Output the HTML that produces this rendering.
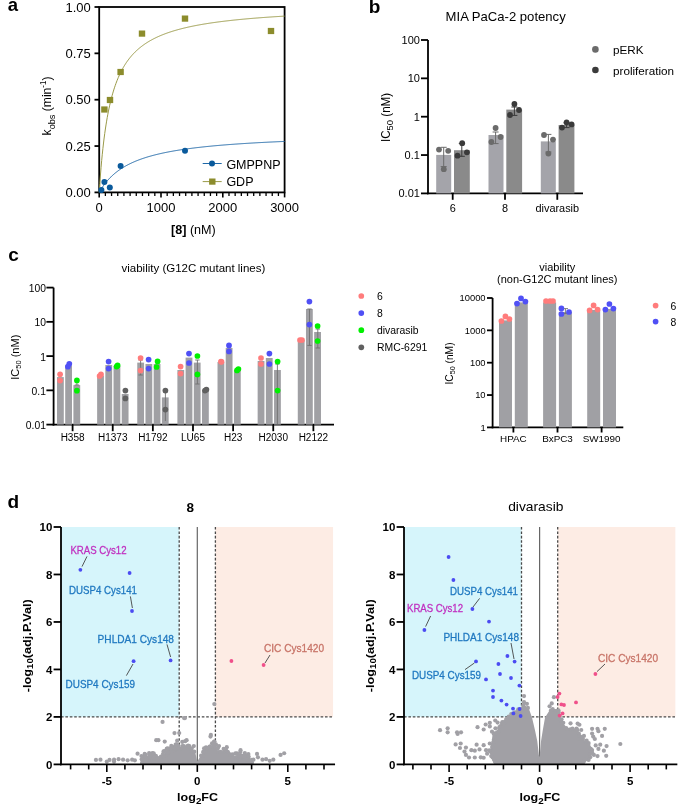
<!DOCTYPE html>
<html><head><meta charset="utf-8"><style>
html,body{margin:0;padding:0;background:#fff;width:685px;height:805px;overflow:hidden}
svg{display:block;font-family:"Liberation Sans", sans-serif;will-change:transform}
</style></head><body>
<svg width="685" height="805" viewBox="0 0 685 805">
<rect width="685" height="805" fill="#fff"/>
<text x="7.8" y="10.6" font-size="18.5" font-weight="bold">a</text>
<text x="368.8" y="12.9" font-size="19" font-weight="bold">b</text>
<text x="8.2" y="261.2" font-size="19" font-weight="bold">c</text>
<text x="7.6" y="508.3" font-size="19" font-weight="bold">d</text>
<rect x="99.2" y="7" width="185.4" height="185.4" fill="none" stroke="#000" stroke-width="1.8"/>
<line x1="94.5" y1="192.4" x2="99.2" y2="192.4" stroke="#000" stroke-width="1.8"/>
<text x="90.8" y="197" font-size="13" text-anchor="end">0.00</text>
<line x1="94.5" y1="146.05" x2="99.2" y2="146.05" stroke="#000" stroke-width="1.8"/>
<text x="90.8" y="150.65" font-size="13" text-anchor="end">0.25</text>
<line x1="94.5" y1="99.7" x2="99.2" y2="99.7" stroke="#000" stroke-width="1.8"/>
<text x="90.8" y="104.3" font-size="13" text-anchor="end">0.50</text>
<line x1="94.5" y1="53.35" x2="99.2" y2="53.35" stroke="#000" stroke-width="1.8"/>
<text x="90.8" y="57.95" font-size="13" text-anchor="end">0.75</text>
<line x1="94.5" y1="7" x2="99.2" y2="7" stroke="#000" stroke-width="1.8"/>
<text x="90.8" y="11.6" font-size="13" text-anchor="end">1.00</text>
<line x1="99.2" y1="192.4" x2="99.2" y2="197.4" stroke="#000" stroke-width="1.6"/>
<line x1="105.38" y1="192.4" x2="105.38" y2="196" stroke="#000" stroke-width="1.3"/>
<line x1="111.56" y1="192.4" x2="111.56" y2="196" stroke="#000" stroke-width="1.3"/>
<line x1="117.74" y1="192.4" x2="117.74" y2="196" stroke="#000" stroke-width="1.3"/>
<line x1="123.92" y1="192.4" x2="123.92" y2="196" stroke="#000" stroke-width="1.3"/>
<line x1="130.1" y1="192.4" x2="130.1" y2="196" stroke="#000" stroke-width="1.3"/>
<line x1="136.28" y1="192.4" x2="136.28" y2="196" stroke="#000" stroke-width="1.3"/>
<line x1="142.46" y1="192.4" x2="142.46" y2="196" stroke="#000" stroke-width="1.3"/>
<line x1="148.64" y1="192.4" x2="148.64" y2="196" stroke="#000" stroke-width="1.3"/>
<line x1="154.82" y1="192.4" x2="154.82" y2="196" stroke="#000" stroke-width="1.3"/>
<line x1="161" y1="192.4" x2="161" y2="197.4" stroke="#000" stroke-width="1.6"/>
<line x1="167.18" y1="192.4" x2="167.18" y2="196" stroke="#000" stroke-width="1.3"/>
<line x1="173.36" y1="192.4" x2="173.36" y2="196" stroke="#000" stroke-width="1.3"/>
<line x1="179.54" y1="192.4" x2="179.54" y2="196" stroke="#000" stroke-width="1.3"/>
<line x1="185.72" y1="192.4" x2="185.72" y2="196" stroke="#000" stroke-width="1.3"/>
<line x1="191.9" y1="192.4" x2="191.9" y2="196" stroke="#000" stroke-width="1.3"/>
<line x1="198.08" y1="192.4" x2="198.08" y2="196" stroke="#000" stroke-width="1.3"/>
<line x1="204.26" y1="192.4" x2="204.26" y2="196" stroke="#000" stroke-width="1.3"/>
<line x1="210.44" y1="192.4" x2="210.44" y2="196" stroke="#000" stroke-width="1.3"/>
<line x1="216.62" y1="192.4" x2="216.62" y2="196" stroke="#000" stroke-width="1.3"/>
<line x1="222.8" y1="192.4" x2="222.8" y2="197.4" stroke="#000" stroke-width="1.6"/>
<line x1="228.98" y1="192.4" x2="228.98" y2="196" stroke="#000" stroke-width="1.3"/>
<line x1="235.16" y1="192.4" x2="235.16" y2="196" stroke="#000" stroke-width="1.3"/>
<line x1="241.34" y1="192.4" x2="241.34" y2="196" stroke="#000" stroke-width="1.3"/>
<line x1="247.52" y1="192.4" x2="247.52" y2="196" stroke="#000" stroke-width="1.3"/>
<line x1="253.7" y1="192.4" x2="253.7" y2="196" stroke="#000" stroke-width="1.3"/>
<line x1="259.88" y1="192.4" x2="259.88" y2="196" stroke="#000" stroke-width="1.3"/>
<line x1="266.06" y1="192.4" x2="266.06" y2="196" stroke="#000" stroke-width="1.3"/>
<line x1="272.24" y1="192.4" x2="272.24" y2="196" stroke="#000" stroke-width="1.3"/>
<line x1="278.42" y1="192.4" x2="278.42" y2="196" stroke="#000" stroke-width="1.3"/>
<line x1="284.6" y1="192.4" x2="284.6" y2="197.4" stroke="#000" stroke-width="1.6"/>
<text x="99.2" y="212.3" font-size="13" text-anchor="middle">0</text>
<text x="161" y="212.3" font-size="13" text-anchor="middle">1000</text>
<text x="222.8" y="212.3" font-size="13" text-anchor="middle">2000</text>
<text x="284.6" y="212.3" font-size="13" text-anchor="middle">3000</text>
<text x="171" y="234" font-size="12.6"><tspan font-weight="bold">[8]</tspan> (nM)</text>
<text transform="translate(50.8,135.4) rotate(-90) scale(0.95,1)" font-size="12.8">k<tspan font-size="9.6" dy="4.3">obs</tspan><tspan dy="-4.3"> (min</tspan><tspan font-size="8.5" dy="-4.6">-1</tspan><tspan dy="4.6">)</tspan></text>
<polyline points="99.2,192.4 99.82,183.3 100.44,175.03 101.05,167.5 101.67,160.61 102.29,154.27 102.91,148.43 103.53,143.03 104.14,138.02 104.76,133.36 105.38,129.01 106,124.95 106.62,121.15 107.23,117.58 107.85,114.22 108.47,111.05 109.09,108.06 109.71,105.24 110.32,102.56 110.94,100.03 111.56,97.62 112.18,95.33 112.8,93.15 113.41,91.07 114.03,89.09 114.65,87.2 115.27,85.39 115.89,83.65 116.5,81.99 117.12,80.4 117.74,78.87 118.36,77.41 118.98,76 119.59,74.64 120.21,73.33 120.83,72.07 121.45,70.86 122.07,69.69 122.68,68.56 123.3,67.47 123.92,66.42 124.54,65.4 125.16,64.41 125.77,63.45 126.39,62.53 127.01,61.63 127.63,60.76 128.25,59.92 128.86,59.1 129.48,58.31 130.1,57.54 130.72,56.79 131.34,56.06 131.95,55.35 132.57,54.66 133.19,53.99 133.81,53.34 134.43,52.7 135.04,52.08 135.66,51.48 136.28,50.89 136.9,50.31 137.52,49.75 138.13,49.21 138.75,48.67 139.37,48.15 139.99,47.64 140.61,47.15 141.22,46.66 141.84,46.19 142.46,45.72 143.08,45.27 143.7,44.82 144.31,44.39 144.93,43.97 145.55,43.55 146.17,43.14 146.79,42.74 147.4,42.35 148.02,41.97 148.64,41.59 149.26,41.23 149.88,40.87 150.49,40.51 151.11,40.17 151.73,39.83 152.35,39.49 152.97,39.16 153.58,38.84 154.2,38.53 154.82,38.22 155.44,37.91 156.06,37.62 156.67,37.32 157.29,37.03 157.91,36.75 158.53,36.47 159.15,36.2 159.76,35.93 160.38,35.67 161,35.41 161.62,35.15 162.24,34.9 162.85,34.65 163.47,34.41 164.09,34.17 164.71,33.94 165.33,33.7 165.94,33.48 166.56,33.25 167.18,33.03 167.8,32.81 168.42,32.6 169.03,32.39 169.65,32.18 170.27,31.97 170.89,31.77 171.51,31.57 172.12,31.38 172.74,31.18 173.36,30.99 173.98,30.81 174.6,30.62 175.21,30.44 175.83,30.26 176.45,30.08 177.07,29.91 177.69,29.73 178.3,29.56 178.92,29.39 179.54,29.23 180.16,29.07 180.78,28.9 181.39,28.74 182.01,28.59 182.63,28.43 183.25,28.28 183.87,28.13 184.48,27.98 185.1,27.83 185.72,27.69 186.34,27.54 186.96,27.4 187.57,27.26 188.19,27.12 188.81,26.98 189.43,26.85 190.05,26.71 190.66,26.58 191.28,26.45 191.9,26.32 192.52,26.2 193.14,26.07 193.75,25.95 194.37,25.82 194.99,25.7 195.61,25.58 196.23,25.46 196.84,25.34 197.46,25.23 198.08,25.11 198.7,25 199.32,24.89 199.93,24.78 200.55,24.67 201.17,24.56 201.79,24.45 202.41,24.34 203.02,24.24 203.64,24.13 204.26,24.03 204.88,23.93 205.5,23.83 206.11,23.73 206.73,23.63 207.35,23.53 207.97,23.44 208.59,23.34 209.2,23.24 209.82,23.15 210.44,23.06 211.06,22.97 211.68,22.87 212.29,22.78 212.91,22.69 213.53,22.61 214.15,22.52 214.77,22.43 215.38,22.35 216,22.26 216.62,22.18 217.24,22.09 217.86,22.01 218.47,21.93 219.09,21.85 219.71,21.77 220.33,21.69 220.95,21.61 221.56,21.53 222.18,21.45 222.8,21.38 223.42,21.3 224.04,21.22 224.65,21.15 225.27,21.08 225.89,21 226.51,20.93 227.13,20.86 227.74,20.79 228.36,20.72 228.98,20.64 229.6,20.58 230.22,20.51 230.83,20.44 231.45,20.37 232.07,20.3 232.69,20.24 233.31,20.17 233.92,20.1 234.54,20.04 235.16,19.97 235.78,19.91 236.4,19.85 237.01,19.78 237.63,19.72 238.25,19.66 238.87,19.6 239.49,19.54 240.1,19.48 240.72,19.42 241.34,19.36 241.96,19.3 242.58,19.24 243.19,19.18 243.81,19.13 244.43,19.07 245.05,19.01 245.67,18.96 246.28,18.9 246.9,18.84 247.52,18.79 248.14,18.74 248.76,18.68 249.37,18.63 249.99,18.57 250.61,18.52 251.23,18.47 251.85,18.42 252.46,18.37 253.08,18.31 253.7,18.26 254.32,18.21 254.94,18.16 255.55,18.11 256.17,18.06 256.79,18.01 257.41,17.97 258.03,17.92 258.64,17.87 259.26,17.82 259.88,17.77 260.5,17.73 261.12,17.68 261.73,17.63 262.35,17.59 262.97,17.54 263.59,17.5 264.21,17.45 264.82,17.41 265.44,17.36 266.06,17.32 266.68,17.28 267.3,17.23 267.91,17.19 268.53,17.15 269.15,17.1 269.77,17.06 270.39,17.02 271,16.98 271.62,16.94 272.24,16.89 272.86,16.85 273.48,16.81 274.09,16.77 274.71,16.73 275.33,16.69 275.95,16.65 276.57,16.61 277.18,16.57 277.8,16.54 278.42,16.5 279.04,16.46 279.66,16.42 280.27,16.38 280.89,16.34 281.51,16.31 282.13,16.27 282.75,16.23 283.36,16.2 283.98,16.16 284.6,16.12" fill="none" stroke="#9a9a48" stroke-width="1"/>
<polyline points="99.2,192.4 99.82,191.32 100.44,190.28 101.05,189.28 101.67,188.31 102.29,187.37 102.91,186.46 103.53,185.59 104.14,184.74 104.76,183.91 105.38,183.12 106,182.34 106.62,181.59 107.23,180.86 107.85,180.16 108.47,179.47 109.09,178.8 109.71,178.15 110.32,177.52 110.94,176.91 111.56,176.31 112.18,175.73 112.8,175.16 113.41,174.61 114.03,174.07 114.65,173.54 115.27,173.03 115.89,172.53 116.5,172.04 117.12,171.57 117.74,171.1 118.36,170.65 118.98,170.2 119.59,169.77 120.21,169.35 120.83,168.93 121.45,168.53 122.07,168.13 122.68,167.74 123.3,167.36 123.92,166.99 124.54,166.63 125.16,166.27 125.77,165.92 126.39,165.58 127.01,165.25 127.63,164.92 128.25,164.6 128.86,164.28 129.48,163.97 130.1,163.67 130.72,163.37 131.34,163.08 131.95,162.79 132.57,162.51 133.19,162.23 133.81,161.96 134.43,161.69 135.04,161.43 135.66,161.17 136.28,160.92 136.9,160.67 137.52,160.43 138.13,160.18 138.75,159.95 139.37,159.72 139.99,159.49 140.61,159.26 141.22,159.04 141.84,158.82 142.46,158.61 143.08,158.4 143.7,158.19 144.31,157.99 144.93,157.79 145.55,157.59 146.17,157.39 146.79,157.2 147.4,157.01 148.02,156.83 148.64,156.64 149.26,156.46 149.88,156.29 150.49,156.11 151.11,155.94 151.73,155.77 152.35,155.6 152.97,155.43 153.58,155.27 154.2,155.11 154.82,154.95 155.44,154.79 156.06,154.64 156.67,154.49 157.29,154.33 157.91,154.19 158.53,154.04 159.15,153.9 159.76,153.75 160.38,153.61 161,153.47 161.62,153.34 162.24,153.2 162.85,153.07 163.47,152.93 164.09,152.8 164.71,152.68 165.33,152.55 165.94,152.42 166.56,152.3 167.18,152.18 167.8,152.05 168.42,151.93 169.03,151.82 169.65,151.7 170.27,151.58 170.89,151.47 171.51,151.36 172.12,151.25 172.74,151.14 173.36,151.03 173.98,150.92 174.6,150.81 175.21,150.71 175.83,150.6 176.45,150.5 177.07,150.4 177.69,150.3 178.3,150.2 178.92,150.1 179.54,150 180.16,149.91 180.78,149.81 181.39,149.72 182.01,149.62 182.63,149.53 183.25,149.44 183.87,149.35 184.48,149.26 185.1,149.17 185.72,149.08 186.34,149 186.96,148.91 187.57,148.82 188.19,148.74 188.81,148.66 189.43,148.57 190.05,148.49 190.66,148.41 191.28,148.33 191.9,148.25 192.52,148.17 193.14,148.1 193.75,148.02 194.37,147.94 194.99,147.87 195.61,147.79 196.23,147.72 196.84,147.64 197.46,147.57 198.08,147.5 198.7,147.43 199.32,147.36 199.93,147.29 200.55,147.22 201.17,147.15 201.79,147.08 202.41,147.01 203.02,146.95 203.64,146.88 204.26,146.81 204.88,146.75 205.5,146.68 206.11,146.62 206.73,146.56 207.35,146.49 207.97,146.43 208.59,146.37 209.2,146.31 209.82,146.25 210.44,146.19 211.06,146.13 211.68,146.07 212.29,146.01 212.91,145.95 213.53,145.89 214.15,145.84 214.77,145.78 215.38,145.72 216,145.67 216.62,145.61 217.24,145.56 217.86,145.5 218.47,145.45 219.09,145.39 219.71,145.34 220.33,145.29 220.95,145.23 221.56,145.18 222.18,145.13 222.8,145.08 223.42,145.03 224.04,144.98 224.65,144.93 225.27,144.88 225.89,144.83 226.51,144.78 227.13,144.73 227.74,144.68 228.36,144.64 228.98,144.59 229.6,144.54 230.22,144.49 230.83,144.45 231.45,144.4 232.07,144.36 232.69,144.31 233.31,144.27 233.92,144.22 234.54,144.18 235.16,144.13 235.78,144.09 236.4,144.05 237.01,144 237.63,143.96 238.25,143.92 238.87,143.88 239.49,143.83 240.1,143.79 240.72,143.75 241.34,143.71 241.96,143.67 242.58,143.63 243.19,143.59 243.81,143.55 244.43,143.51 245.05,143.47 245.67,143.43 246.28,143.39 246.9,143.35 247.52,143.32 248.14,143.28 248.76,143.24 249.37,143.2 249.99,143.16 250.61,143.13 251.23,143.09 251.85,143.05 252.46,143.02 253.08,142.98 253.7,142.95 254.32,142.91 254.94,142.88 255.55,142.84 256.17,142.81 256.79,142.77 257.41,142.74 258.03,142.7 258.64,142.67 259.26,142.63 259.88,142.6 260.5,142.57 261.12,142.53 261.73,142.5 262.35,142.47 262.97,142.44 263.59,142.4 264.21,142.37 264.82,142.34 265.44,142.31 266.06,142.28 266.68,142.25 267.3,142.21 267.91,142.18 268.53,142.15 269.15,142.12 269.77,142.09 270.39,142.06 271,142.03 271.62,142 272.24,141.97 272.86,141.94 273.48,141.91 274.09,141.88 274.71,141.86 275.33,141.83 275.95,141.8 276.57,141.77 277.18,141.74 277.8,141.71 278.42,141.69 279.04,141.66 279.66,141.63 280.27,141.6 280.89,141.58 281.51,141.55 282.13,141.52 282.75,141.49 283.36,141.47 283.98,141.44 284.6,141.41" fill="none" stroke="#1f68a8" stroke-width="1"/>
<rect x="101.2" y="106.4" width="6.4" height="6.2" fill="#8c8c2c"/>
<rect x="106.8" y="96.9" width="6.4" height="6.2" fill="#8c8c2c"/>
<rect x="117.4" y="68.9" width="6.4" height="6.2" fill="#8c8c2c"/>
<rect x="138.8" y="30.5" width="6.4" height="6.2" fill="#8c8c2c"/>
<rect x="181.8" y="15.5" width="6.4" height="6.2" fill="#8c8c2c"/>
<rect x="267.8" y="27.9" width="6.4" height="6.2" fill="#8c8c2c"/>
<circle cx="101.4" cy="190" r="3" fill="#0a5a9c"/>
<circle cx="104.4" cy="182" r="3" fill="#0a5a9c"/>
<circle cx="109.8" cy="187.4" r="3" fill="#0a5a9c"/>
<circle cx="120.6" cy="166" r="3" fill="#0a5a9c"/>
<circle cx="185" cy="150.8" r="3" fill="#0a5a9c"/>
<line x1="202.7" y1="163.5" x2="221.7" y2="163.5" stroke="#1f68a8" stroke-width="1"/>
<circle cx="212" cy="163.5" r="3" fill="#0a5a9c"/>
<line x1="202.7" y1="181.6" x2="221.7" y2="181.6" stroke="#9a9a48" stroke-width="1"/>
<rect x="209.1" y="178.5" width="6.4" height="6.2" fill="#8c8c2c"/>
<text x="226.4" y="169" font-size="12.5">GMPPNP</text>
<text x="226.4" y="186.2" font-size="12.5">GDP</text>
<text x="445.6" y="21.4" font-size="13.1">MIA PaCa-2 potency</text>
<line x1="428" y1="40" x2="428" y2="194.3" stroke="#000" stroke-width="1.8"/>
<line x1="427.1" y1="193.4" x2="583" y2="193.4" stroke="#000" stroke-width="1.8"/>
<line x1="421" y1="193.4" x2="428" y2="193.4" stroke="#000" stroke-width="1.8"/>
<text x="419.9" y="197.3" font-size="11" text-anchor="end">0.01</text>
<line x1="421" y1="155.05" x2="428" y2="155.05" stroke="#000" stroke-width="1.8"/>
<text x="419.9" y="158.95" font-size="11" text-anchor="end">0.1</text>
<line x1="421" y1="116.7" x2="428" y2="116.7" stroke="#000" stroke-width="1.8"/>
<text x="419.9" y="120.6" font-size="11" text-anchor="end">1</text>
<line x1="421" y1="78.35" x2="428" y2="78.35" stroke="#000" stroke-width="1.8"/>
<text x="419.9" y="82.25" font-size="11" text-anchor="end">10</text>
<line x1="421" y1="40" x2="428" y2="40" stroke="#000" stroke-width="1.8"/>
<text x="419.9" y="43.9" font-size="11" text-anchor="end">100</text>
<text transform="translate(390.3,142) rotate(-90) scale(0.965,1)" font-size="12">IC<tspan font-size="9.8" dy="2.8">50</tspan><tspan dy="-2.8"> (nM)</tspan></text>
<line x1="452.7" y1="193.4" x2="452.7" y2="199.8" stroke="#000" stroke-width="1.8"/>
<text x="452.7" y="211.6" font-size="10.9" text-anchor="middle">6</text>
<line x1="505" y1="193.4" x2="505" y2="199.8" stroke="#000" stroke-width="1.8"/>
<text x="505" y="211.6" font-size="10.9" text-anchor="middle">8</text>
<line x1="557.3" y1="193.4" x2="557.3" y2="199.8" stroke="#000" stroke-width="1.8"/>
<text x="557.3" y="211.6" font-size="10.9" text-anchor="middle">divarasib</text>
<rect x="436.2" y="154.9" width="15" height="38.5" fill="#a4a4aa"/>
<rect x="454" y="150.2" width="15.8" height="43.2" fill="#8a8a8a"/>
<rect x="488.5" y="135" width="15" height="58.4" fill="#a4a4aa"/>
<rect x="506.3" y="109.6" width="15.8" height="83.8" fill="#8a8a8a"/>
<rect x="540.8" y="141.4" width="15" height="52" fill="#a4a4aa"/>
<rect x="558.6" y="125" width="15.8" height="68.4" fill="#8a8a8a"/>
<line x1="443.7" y1="147.3" x2="443.7" y2="166.6" stroke="#6b6b6b" stroke-width="1"/>
<line x1="440.7" y1="147.3" x2="446.7" y2="147.3" stroke="#6b6b6b" stroke-width="1"/>
<line x1="440.7" y1="166.6" x2="446.7" y2="166.6" stroke="#6b6b6b" stroke-width="1"/>
<circle cx="439" cy="149.6" r="2.9" fill="#6b6b6b"/>
<circle cx="448.2" cy="150.8" r="2.9" fill="#6b6b6b"/>
<circle cx="443.8" cy="169.2" r="2.9" fill="#6b6b6b"/>
<line x1="461.8" y1="143.4" x2="461.8" y2="156.3" stroke="#3a3a3a" stroke-width="1"/>
<line x1="458.8" y1="143.4" x2="464.8" y2="143.4" stroke="#3a3a3a" stroke-width="1"/>
<line x1="458.8" y1="156.3" x2="464.8" y2="156.3" stroke="#3a3a3a" stroke-width="1"/>
<circle cx="462.2" cy="143.2" r="2.9" fill="#3a3a3a"/>
<circle cx="457.5" cy="155.7" r="2.9" fill="#3a3a3a"/>
<circle cx="466.9" cy="152.3" r="2.9" fill="#3a3a3a"/>
<line x1="495.6" y1="132" x2="495.6" y2="143.6" stroke="#6b6b6b" stroke-width="1"/>
<line x1="492.6" y1="132" x2="498.6" y2="132" stroke="#6b6b6b" stroke-width="1"/>
<line x1="492.6" y1="143.6" x2="498.6" y2="143.6" stroke="#6b6b6b" stroke-width="1"/>
<circle cx="495.6" cy="128" r="2.9" fill="#6b6b6b"/>
<circle cx="491.4" cy="142" r="2.9" fill="#6b6b6b"/>
<circle cx="500.6" cy="137" r="2.9" fill="#6b6b6b"/>
<line x1="514.4" y1="107" x2="514.4" y2="115.4" stroke="#3a3a3a" stroke-width="1"/>
<line x1="511.4" y1="107" x2="517.4" y2="107" stroke="#3a3a3a" stroke-width="1"/>
<line x1="511.4" y1="115.4" x2="517.4" y2="115.4" stroke="#3a3a3a" stroke-width="1"/>
<circle cx="514.4" cy="104" r="2.9" fill="#3a3a3a"/>
<circle cx="510" cy="115" r="2.9" fill="#3a3a3a"/>
<circle cx="519" cy="110" r="2.9" fill="#3a3a3a"/>
<line x1="548.4" y1="134.4" x2="548.4" y2="152" stroke="#6b6b6b" stroke-width="1"/>
<line x1="545.4" y1="134.4" x2="551.4" y2="134.4" stroke="#6b6b6b" stroke-width="1"/>
<line x1="545.4" y1="152" x2="551.4" y2="152" stroke="#6b6b6b" stroke-width="1"/>
<circle cx="544" cy="135" r="2.9" fill="#6b6b6b"/>
<circle cx="553" cy="139.6" r="2.9" fill="#6b6b6b"/>
<circle cx="548.4" cy="153.6" r="2.9" fill="#6b6b6b"/>
<line x1="566.6" y1="122.8" x2="566.6" y2="127.6" stroke="#3a3a3a" stroke-width="1"/>
<line x1="563.6" y1="122.8" x2="569.6" y2="122.8" stroke="#3a3a3a" stroke-width="1"/>
<line x1="563.6" y1="127.6" x2="569.6" y2="127.6" stroke="#3a3a3a" stroke-width="1"/>
<circle cx="562" cy="127.6" r="2.9" fill="#3a3a3a"/>
<circle cx="566.6" cy="122.4" r="2.9" fill="#3a3a3a"/>
<circle cx="571.6" cy="124.4" r="2.9" fill="#3a3a3a"/>
<circle cx="595.4" cy="49.4" r="3.3" fill="#6b6b6b"/>
<circle cx="595.4" cy="70" r="3.3" fill="#3a3a3a"/>
<text x="613" y="54.4" font-size="11.7">pERK</text>
<text x="613" y="75" font-size="11.7">proliferation</text>
<text x="121.5" y="272" font-size="11.5">viability (G12C mutant lines)</text>
<line x1="53.6" y1="287.6" x2="53.6" y2="425.5" stroke="#000" stroke-width="1.8"/>
<line x1="52.7" y1="424.6" x2="334" y2="424.6" stroke="#000" stroke-width="1.8"/>
<line x1="46.4" y1="424.6" x2="53.6" y2="424.6" stroke="#000" stroke-width="1.8"/>
<text x="45.9" y="429" font-size="10.3" text-anchor="end">0.01</text>
<line x1="46.4" y1="390.35" x2="53.6" y2="390.35" stroke="#000" stroke-width="1.8"/>
<text x="45.9" y="394.75" font-size="10.3" text-anchor="end">0.1</text>
<line x1="46.4" y1="356.1" x2="53.6" y2="356.1" stroke="#000" stroke-width="1.8"/>
<text x="45.9" y="360.5" font-size="10.3" text-anchor="end">1</text>
<line x1="46.4" y1="321.85" x2="53.6" y2="321.85" stroke="#000" stroke-width="1.8"/>
<text x="45.9" y="326.25" font-size="10.3" text-anchor="end">10</text>
<line x1="46.4" y1="287.6" x2="53.6" y2="287.6" stroke="#000" stroke-width="1.8"/>
<text x="45.9" y="292" font-size="10.3" text-anchor="end">100</text>
<text transform="translate(19,379.7) rotate(-90)" font-size="11">IC<tspan font-size="7.5" dy="2.2">50</tspan><tspan dy="-2.2"> (nM)</tspan></text>
<line x1="72.6" y1="424.6" x2="72.6" y2="431.2" stroke="#000" stroke-width="1.8"/>
<text x="72.6" y="440.9" font-size="10" text-anchor="middle">H358</text>
<rect x="57" y="377.1" width="6.8" height="47.5" fill="#a0a0a4"/>
<rect x="65.2" y="365.5" width="6.8" height="59.1" fill="#a0a0a4"/>
<rect x="73.4" y="385.1" width="6.8" height="39.5" fill="#a0a0a4"/>
<line x1="112.73" y1="424.6" x2="112.73" y2="431.2" stroke="#000" stroke-width="1.8"/>
<text x="112.73" y="440.9" font-size="10" text-anchor="middle">H1373</text>
<rect x="97.13" y="375.6" width="6.8" height="49" fill="#a0a0a4"/>
<rect x="105.33" y="365" width="6.8" height="59.6" fill="#a0a0a4"/>
<rect x="113.53" y="366" width="6.8" height="58.6" fill="#a0a0a4"/>
<rect x="121.73" y="394" width="6.8" height="30.6" fill="#a0a0a4"/>
<line x1="152.86" y1="424.6" x2="152.86" y2="431.2" stroke="#000" stroke-width="1.8"/>
<text x="152.86" y="440.9" font-size="10" text-anchor="middle">H1792</text>
<rect x="137.26" y="362.6" width="6.8" height="62" fill="#a0a0a4"/>
<rect x="145.46" y="364" width="6.8" height="60.6" fill="#a0a0a4"/>
<rect x="153.66" y="364" width="6.8" height="60.6" fill="#a0a0a4"/>
<rect x="161.86" y="397.4" width="6.8" height="27.2" fill="#a0a0a4"/>
<line x1="192.99" y1="424.6" x2="192.99" y2="431.2" stroke="#000" stroke-width="1.8"/>
<text x="192.99" y="440.9" font-size="10" text-anchor="middle">LU65</text>
<rect x="177.39" y="370" width="6.8" height="54.6" fill="#a0a0a4"/>
<rect x="185.59" y="357.6" width="6.8" height="67" fill="#a0a0a4"/>
<rect x="193.79" y="362.6" width="6.8" height="62" fill="#a0a0a4"/>
<rect x="201.99" y="390" width="6.8" height="34.6" fill="#a0a0a4"/>
<line x1="233.12" y1="424.6" x2="233.12" y2="431.2" stroke="#000" stroke-width="1.8"/>
<text x="233.12" y="440.9" font-size="10" text-anchor="middle">H23</text>
<rect x="217.52" y="362" width="6.8" height="62.6" fill="#a0a0a4"/>
<rect x="225.72" y="348" width="6.8" height="76.6" fill="#a0a0a4"/>
<rect x="233.92" y="370" width="6.8" height="54.6" fill="#a0a0a4"/>
<line x1="273.25" y1="424.6" x2="273.25" y2="431.2" stroke="#000" stroke-width="1.8"/>
<text x="273.25" y="440.9" font-size="10" text-anchor="middle">H2030</text>
<rect x="257.65" y="361" width="6.8" height="63.6" fill="#a0a0a4"/>
<rect x="265.85" y="358" width="6.8" height="66.6" fill="#a0a0a4"/>
<rect x="274.05" y="370" width="6.8" height="54.6" fill="#a0a0a4"/>
<line x1="313.38" y1="424.6" x2="313.38" y2="431.2" stroke="#000" stroke-width="1.8"/>
<text x="313.38" y="440.9" font-size="10" text-anchor="middle">H2122</text>
<rect x="297.78" y="340" width="6.8" height="84.6" fill="#a0a0a4"/>
<rect x="305.98" y="309" width="6.8" height="115.6" fill="#a0a0a4"/>
<rect x="314.18" y="332" width="6.8" height="92.6" fill="#a0a0a4"/>
<line x1="140.6" y1="360" x2="140.6" y2="375" stroke="#707070" stroke-width="0.9"/>
<line x1="138.4" y1="360" x2="142.8" y2="360" stroke="#707070" stroke-width="0.9"/>
<line x1="138.4" y1="375" x2="142.8" y2="375" stroke="#707070" stroke-width="0.9"/>
<line x1="165.4" y1="392" x2="165.4" y2="421" stroke="#707070" stroke-width="0.9"/>
<line x1="163.2" y1="392" x2="167.6" y2="392" stroke="#707070" stroke-width="0.9"/>
<line x1="197.4" y1="360" x2="197.4" y2="384" stroke="#707070" stroke-width="0.9"/>
<line x1="195.2" y1="360" x2="199.6" y2="360" stroke="#707070" stroke-width="0.9"/>
<line x1="195.2" y1="384" x2="199.6" y2="384" stroke="#707070" stroke-width="0.9"/>
<line x1="309.5" y1="309" x2="309.5" y2="345.4" stroke="#707070" stroke-width="0.9"/>
<line x1="307.3" y1="309" x2="311.7" y2="309" stroke="#707070" stroke-width="0.9"/>
<line x1="307.3" y1="345.4" x2="311.7" y2="345.4" stroke="#707070" stroke-width="0.9"/>
<line x1="317.8" y1="329" x2="317.8" y2="348" stroke="#707070" stroke-width="0.9"/>
<line x1="315.6" y1="329" x2="320" y2="329" stroke="#707070" stroke-width="0.9"/>
<line x1="315.6" y1="348" x2="320" y2="348" stroke="#707070" stroke-width="0.9"/>
<line x1="277.4" y1="364" x2="277.4" y2="424" stroke="#707070" stroke-width="0.9"/>
<line x1="275.2" y1="364" x2="279.6" y2="364" stroke="#707070" stroke-width="0.9"/>
<line x1="76.9" y1="380" x2="76.9" y2="385" stroke="#707070" stroke-width="0.9"/>
<line x1="74.7" y1="380" x2="79.1" y2="380" stroke="#707070" stroke-width="0.9"/>
<line x1="74.7" y1="385" x2="79.1" y2="385" stroke="#707070" stroke-width="0.9"/>
<circle cx="60.1" cy="374.3" r="2.85" fill="#ff7c7c"/>
<circle cx="60.1" cy="380.6" r="2.85" fill="#ff7c7c"/>
<circle cx="69.3" cy="363.8" r="2.85" fill="#5050f5"/>
<circle cx="67.9" cy="366.7" r="2.85" fill="#5050f5"/>
<circle cx="76.9" cy="380.4" r="2.85" fill="#00f000"/>
<circle cx="76.9" cy="390.7" r="2.85" fill="#00f000"/>
<circle cx="99.6" cy="376" r="2.85" fill="#ff7c7c"/>
<circle cx="101" cy="374.4" r="2.85" fill="#ff7c7c"/>
<circle cx="108.6" cy="361.6" r="2.85" fill="#5050f5"/>
<circle cx="108.6" cy="368.6" r="2.85" fill="#5050f5"/>
<circle cx="116.6" cy="366.6" r="2.85" fill="#00f000"/>
<circle cx="117.6" cy="365.4" r="2.85" fill="#00f000"/>
<circle cx="125.4" cy="390.6" r="2.85" fill="#606060"/>
<circle cx="125.4" cy="398.4" r="2.85" fill="#606060"/>
<circle cx="140.6" cy="358" r="2.85" fill="#ff7c7c"/>
<circle cx="140.6" cy="370.6" r="2.85" fill="#ff7c7c"/>
<circle cx="148.6" cy="359.6" r="2.85" fill="#5050f5"/>
<circle cx="148.6" cy="368.6" r="2.85" fill="#5050f5"/>
<circle cx="157.6" cy="361.4" r="2.85" fill="#00f000"/>
<circle cx="156.6" cy="367" r="2.85" fill="#00f000"/>
<circle cx="165.4" cy="390.6" r="2.85" fill="#606060"/>
<circle cx="165.4" cy="409.6" r="2.85" fill="#606060"/>
<circle cx="180.6" cy="366.6" r="2.85" fill="#ff7c7c"/>
<circle cx="180.6" cy="373.6" r="2.85" fill="#ff7c7c"/>
<circle cx="189" cy="353.6" r="2.85" fill="#5050f5"/>
<circle cx="189" cy="363" r="2.85" fill="#5050f5"/>
<circle cx="197.4" cy="356" r="2.85" fill="#00f000"/>
<circle cx="197.4" cy="374.4" r="2.85" fill="#00f000"/>
<circle cx="205" cy="390.6" r="2.85" fill="#606060"/>
<circle cx="206.4" cy="389.6" r="2.85" fill="#606060"/>
<circle cx="221" cy="361.6" r="2.85" fill="#ff7c7c"/>
<circle cx="221.5" cy="361.8" r="2.85" fill="#ff7c7c"/>
<circle cx="229" cy="345.4" r="2.85" fill="#5050f5"/>
<circle cx="229" cy="351.4" r="2.85" fill="#5050f5"/>
<circle cx="237" cy="370.4" r="2.85" fill="#00f000"/>
<circle cx="238.4" cy="369" r="2.85" fill="#00f000"/>
<circle cx="261" cy="358" r="2.85" fill="#ff7c7c"/>
<circle cx="261" cy="364" r="2.85" fill="#ff7c7c"/>
<circle cx="269.4" cy="353.6" r="2.85" fill="#5050f5"/>
<circle cx="269.4" cy="364" r="2.85" fill="#5050f5"/>
<circle cx="277.6" cy="361.6" r="2.85" fill="#00f000"/>
<circle cx="277.6" cy="390.6" r="2.85" fill="#00f000"/>
<circle cx="300" cy="340" r="2.85" fill="#ff7c7c"/>
<circle cx="302" cy="340" r="2.85" fill="#ff7c7c"/>
<circle cx="309.4" cy="301.6" r="2.85" fill="#5050f5"/>
<circle cx="309.4" cy="324.6" r="2.85" fill="#5050f5"/>
<circle cx="317.6" cy="326" r="2.85" fill="#00f000"/>
<circle cx="317.6" cy="341" r="2.85" fill="#00f000"/>
<circle cx="361.3" cy="296" r="2.85" fill="#ff7c7c"/>
<text x="377" y="299.7" font-size="10.4">6</text>
<circle cx="361.3" cy="313.1" r="2.85" fill="#5050f5"/>
<text x="377" y="316.8" font-size="10.4">8</text>
<circle cx="361.3" cy="330.2" r="2.85" fill="#00f000"/>
<text x="377" y="333.9" font-size="10.4">divarasib</text>
<circle cx="361.3" cy="347.3" r="2.85" fill="#606060"/>
<text x="377" y="351" font-size="10.4">RMC-6291</text>
<text x="557.3" y="271" font-size="11" text-anchor="middle">viability</text>
<text x="557.3" y="283" font-size="11" text-anchor="middle">(non-G12C mutant lines)</text>
<line x1="492.6" y1="298" x2="492.6" y2="428.3" stroke="#000" stroke-width="1.8"/>
<line x1="491.7" y1="427.4" x2="623.3" y2="427.4" stroke="#000" stroke-width="1.8"/>
<line x1="487" y1="427.4" x2="492.6" y2="427.4" stroke="#000" stroke-width="1.8"/>
<text x="485.6" y="430.8" font-size="9.4" text-anchor="end">1</text>
<line x1="487" y1="395.05" x2="492.6" y2="395.05" stroke="#000" stroke-width="1.8"/>
<text x="485.6" y="398.45" font-size="9.4" text-anchor="end">10</text>
<line x1="487" y1="362.7" x2="492.6" y2="362.7" stroke="#000" stroke-width="1.8"/>
<text x="485.6" y="366.1" font-size="9.4" text-anchor="end">100</text>
<line x1="487" y1="330.35" x2="492.6" y2="330.35" stroke="#000" stroke-width="1.8"/>
<text x="485.6" y="333.75" font-size="9.4" text-anchor="end">1000</text>
<line x1="487" y1="298" x2="492.6" y2="298" stroke="#000" stroke-width="1.8"/>
<text x="485.6" y="301.4" font-size="9.4" text-anchor="end">10000</text>
<text transform="translate(452.9,384.5) rotate(-90) scale(0.95,1)" font-size="10.8">IC<tspan font-size="7.5" dy="2.2">50</tspan><tspan dy="-2.2"> (nM)</tspan></text>
<line x1="513.4" y1="427.4" x2="513.4" y2="432.5" stroke="#000" stroke-width="1.8"/>
<text x="513.4" y="442" font-size="9.9" text-anchor="middle">HPAC</text>
<rect x="499" y="320.4" width="13" height="107" fill="#a0a0a4"/>
<rect x="514.8" y="302.4" width="13" height="125" fill="#a0a0a4"/>
<line x1="557.5" y1="427.4" x2="557.5" y2="432.5" stroke="#000" stroke-width="1.8"/>
<text x="557.5" y="442" font-size="9.9" text-anchor="middle">BxPC3</text>
<rect x="543.1" y="302.4" width="13" height="125" fill="#a0a0a4"/>
<rect x="558.9" y="312" width="13" height="115.4" fill="#a0a0a4"/>
<line x1="601.6" y1="427.4" x2="601.6" y2="432.5" stroke="#000" stroke-width="1.8"/>
<text x="601.6" y="442" font-size="9.9" text-anchor="middle">SW1990</text>
<rect x="587.2" y="310" width="13" height="117.4" fill="#a0a0a4"/>
<rect x="603" y="309" width="13" height="118.4" fill="#a0a0a4"/>
<line x1="565.4" y1="308.6" x2="565.4" y2="313.6" stroke="#707070" stroke-width="0.9"/>
<line x1="563" y1="308.6" x2="568" y2="308.6" stroke="#707070" stroke-width="0.9"/>
<line x1="563" y1="313.6" x2="568" y2="313.6" stroke="#707070" stroke-width="0.9"/>
<circle cx="501.4" cy="321" r="2.85" fill="#ff7c7c"/>
<circle cx="505.4" cy="316.4" r="2.85" fill="#ff7c7c"/>
<circle cx="509.4" cy="319" r="2.85" fill="#ff7c7c"/>
<circle cx="517" cy="303.6" r="2.85" fill="#5050f5"/>
<circle cx="521" cy="298.4" r="2.85" fill="#5050f5"/>
<circle cx="525.4" cy="301.6" r="2.85" fill="#5050f5"/>
<circle cx="546" cy="301" r="2.85" fill="#ff7c7c"/>
<circle cx="550" cy="301" r="2.85" fill="#ff7c7c"/>
<circle cx="553" cy="301" r="2.85" fill="#ff7c7c"/>
<circle cx="561.4" cy="308.4" r="2.85" fill="#5050f5"/>
<circle cx="561.4" cy="314" r="2.85" fill="#5050f5"/>
<circle cx="569" cy="312" r="2.85" fill="#5050f5"/>
<circle cx="589.6" cy="310.4" r="2.85" fill="#ff7c7c"/>
<circle cx="593.6" cy="305.4" r="2.85" fill="#ff7c7c"/>
<circle cx="597.6" cy="309.6" r="2.85" fill="#ff7c7c"/>
<circle cx="605.4" cy="309.6" r="2.85" fill="#5050f5"/>
<circle cx="609.4" cy="304" r="2.85" fill="#5050f5"/>
<circle cx="613.4" cy="308.6" r="2.85" fill="#5050f5"/>
<circle cx="655.6" cy="305.6" r="2.85" fill="#ff7c7c"/>
<circle cx="655.6" cy="321.6" r="2.85" fill="#5050f5"/>
<text x="670.4" y="309.6" font-size="10.4">6</text>
<text x="670.4" y="325.6" font-size="10.4">8</text>
<rect x="61" y="527" width="118.2" height="189.92" fill="#d6f5fb"/>
<rect x="215.4" y="527" width="117.65" height="189.92" fill="#fdece4"/>
<line x1="179.2" y1="527" x2="179.2" y2="764.4" stroke="#4a4a4a" stroke-width="1.3" stroke-dasharray="2.6,1.8"/>
<line x1="215.4" y1="527" x2="215.4" y2="764.4" stroke="#4a4a4a" stroke-width="1.3" stroke-dasharray="2.6,1.8"/>
<line x1="61" y1="716.92" x2="333.05" y2="716.92" stroke="#4a4a4a" stroke-width="1.3" stroke-dasharray="2.6,1.8"/>
<line x1="197.3" y1="527" x2="197.3" y2="764.4" stroke="#666" stroke-width="1.2"/>
<polygon points="140.29,764.4 140.83,759.65 143,753.48 148.25,757.28 157.12,758.23 163.81,754.43 167.44,751.82 172.5,749.21 179.56,748.49 183,746.6 188.43,745.65 191.15,747.54 195.49,753.48 197.3,761.55 200.74,755.38 204.18,750.87 207.8,747.31 214.86,745.65 218.3,751.58 225.54,751.58 228.98,750.87 232.41,755.38 239.47,757.04 250.15,757.99 251.6,764.4" fill="#a1a0a5"/>
<circle cx="142.12" cy="762.9" r="2.1" fill="#a1a0a5"/>
<circle cx="141.63" cy="759.14" r="2.1" fill="#a1a0a5"/>
<circle cx="141.45" cy="756.02" r="2.1" fill="#a1a0a5"/>
<circle cx="144.73" cy="753.76" r="2.1" fill="#a1a0a5"/>
<circle cx="145.31" cy="756.66" r="2.1" fill="#a1a0a5"/>
<circle cx="148.67" cy="757.78" r="2.1" fill="#a1a0a5"/>
<circle cx="151.09" cy="757.62" r="2.1" fill="#a1a0a5"/>
<circle cx="154.62" cy="758.21" r="2.1" fill="#a1a0a5"/>
<circle cx="157.39" cy="757.91" r="2.1" fill="#a1a0a5"/>
<circle cx="160.94" cy="756.59" r="2.1" fill="#a1a0a5"/>
<circle cx="163.31" cy="756.15" r="2.1" fill="#a1a0a5"/>
<circle cx="166.48" cy="754.14" r="2.1" fill="#a1a0a5"/>
<circle cx="168.96" cy="752.15" r="2.1" fill="#a1a0a5"/>
<circle cx="172.02" cy="751.28" r="2.1" fill="#a1a0a5"/>
<circle cx="172.85" cy="748.84" r="2.1" fill="#a1a0a5"/>
<circle cx="176.67" cy="749.63" r="2.1" fill="#a1a0a5"/>
<circle cx="180.5" cy="748.62" r="2.1" fill="#a1a0a5"/>
<circle cx="183.87" cy="746.15" r="2.1" fill="#a1a0a5"/>
<circle cx="186.46" cy="747.29" r="2.1" fill="#a1a0a5"/>
<circle cx="189.35" cy="746.18" r="2.1" fill="#a1a0a5"/>
<circle cx="191.68" cy="748.56" r="2.1" fill="#a1a0a5"/>
<circle cx="191.62" cy="751.19" r="2.1" fill="#a1a0a5"/>
<circle cx="194.21" cy="751.71" r="2.1" fill="#a1a0a5"/>
<circle cx="203.1" cy="755.44" r="2.1" fill="#a1a0a5"/>
<circle cx="203.8" cy="752.29" r="2.1" fill="#a1a0a5"/>
<circle cx="205.44" cy="751.66" r="2.1" fill="#a1a0a5"/>
<circle cx="206.71" cy="748.72" r="2.1" fill="#a1a0a5"/>
<circle cx="208.87" cy="747.93" r="2.1" fill="#a1a0a5"/>
<circle cx="209.8" cy="746.53" r="2.1" fill="#a1a0a5"/>
<circle cx="214.34" cy="747.59" r="2.1" fill="#a1a0a5"/>
<circle cx="213.97" cy="746.45" r="2.1" fill="#a1a0a5"/>
<circle cx="217.68" cy="747.91" r="2.1" fill="#a1a0a5"/>
<circle cx="218.3" cy="752.02" r="2.1" fill="#a1a0a5"/>
<circle cx="220.61" cy="751.94" r="2.1" fill="#a1a0a5"/>
<circle cx="223.98" cy="751.92" r="2.1" fill="#a1a0a5"/>
<circle cx="225.54" cy="751.41" r="2.1" fill="#a1a0a5"/>
<circle cx="227.75" cy="751.75" r="2.1" fill="#a1a0a5"/>
<circle cx="229.69" cy="754.34" r="2.1" fill="#a1a0a5"/>
<circle cx="232.02" cy="756.76" r="2.1" fill="#a1a0a5"/>
<circle cx="235.3" cy="757.25" r="2.1" fill="#a1a0a5"/>
<circle cx="237.84" cy="757.44" r="2.1" fill="#a1a0a5"/>
<circle cx="239.86" cy="757.95" r="2.1" fill="#a1a0a5"/>
<circle cx="242.71" cy="757.56" r="2.1" fill="#a1a0a5"/>
<circle cx="244.97" cy="759.57" r="2.1" fill="#a1a0a5"/>
<circle cx="248.4" cy="757.61" r="2.1" fill="#a1a0a5"/>
<circle cx="251.72" cy="759.95" r="2.1" fill="#a1a0a5"/>
<circle cx="251.97" cy="762.66" r="2.1" fill="#a1a0a5"/>
<circle cx="217.65" cy="748.39" r="2.1" fill="#a1a0a5"/>
<circle cx="182.24" cy="745.98" r="2.1" fill="#a1a0a5"/>
<circle cx="163.54" cy="751.45" r="2.1" fill="#a1a0a5"/>
<circle cx="188.21" cy="745.63" r="2.1" fill="#a1a0a5"/>
<circle cx="152.53" cy="754.65" r="2.1" fill="#a1a0a5"/>
<circle cx="173.34" cy="747.1" r="2.1" fill="#a1a0a5"/>
<circle cx="176.52" cy="744.4" r="2.1" fill="#a1a0a5"/>
<circle cx="238.9" cy="757.98" r="2.1" fill="#a1a0a5"/>
<circle cx="163" cy="753.98" r="2.1" fill="#a1a0a5"/>
<circle cx="248.38" cy="754" r="2.1" fill="#a1a0a5"/>
<circle cx="178.02" cy="748.47" r="2.1" fill="#a1a0a5"/>
<circle cx="214.44" cy="741.56" r="2.1" fill="#a1a0a5"/>
<circle cx="242.43" cy="756.29" r="2.1" fill="#a1a0a5"/>
<circle cx="237.02" cy="753.25" r="2.1" fill="#a1a0a5"/>
<circle cx="193.81" cy="746.05" r="2.1" fill="#a1a0a5"/>
<circle cx="166.67" cy="748.91" r="2.1" fill="#a1a0a5"/>
<circle cx="150.39" cy="757.61" r="2.1" fill="#a1a0a5"/>
<circle cx="240.12" cy="756.92" r="2.1" fill="#a1a0a5"/>
<circle cx="223.63" cy="748.92" r="2.1" fill="#a1a0a5"/>
<circle cx="232.54" cy="754.24" r="2.1" fill="#a1a0a5"/>
<circle cx="178.14" cy="747.96" r="2.1" fill="#a1a0a5"/>
<circle cx="235.39" cy="753.4" r="2.1" fill="#a1a0a5"/>
<circle cx="244.83" cy="753.02" r="2.1" fill="#a1a0a5"/>
<circle cx="155.89" cy="755.75" r="2.1" fill="#a1a0a5"/>
<circle cx="152.51" cy="758.67" r="2.1" fill="#a1a0a5"/>
<circle cx="149.14" cy="753.01" r="2.1" fill="#a1a0a5"/>
<circle cx="226.78" cy="747.2" r="2.1" fill="#a1a0a5"/>
<circle cx="178.21" cy="745.87" r="2.1" fill="#a1a0a5"/>
<circle cx="226.1" cy="750.23" r="2.1" fill="#a1a0a5"/>
<circle cx="203.18" cy="751.93" r="2.1" fill="#a1a0a5"/>
<circle cx="150.07" cy="756.95" r="2.1" fill="#a1a0a5"/>
<circle cx="237.93" cy="754.25" r="2.1" fill="#a1a0a5"/>
<circle cx="241.65" cy="755.49" r="2.1" fill="#a1a0a5"/>
<circle cx="171.29" cy="745.97" r="2.1" fill="#a1a0a5"/>
<circle cx="231.09" cy="754.74" r="2.1" fill="#a1a0a5"/>
<circle cx="214" cy="746.45" r="2.1" fill="#a1a0a5"/>
<circle cx="153.69" cy="753.37" r="2.1" fill="#a1a0a5"/>
<circle cx="145.54" cy="754.97" r="2.1" fill="#a1a0a5"/>
<circle cx="248.5" cy="756.33" r="2.1" fill="#a1a0a5"/>
<circle cx="153.74" cy="757.98" r="2.1" fill="#a1a0a5"/>
<circle cx="167.41" cy="748.26" r="2.1" fill="#a1a0a5"/>
<circle cx="152.36" cy="753.07" r="2.1" fill="#a1a0a5"/>
<circle cx="182.27" cy="741.97" r="2.1" fill="#a1a0a5"/>
<circle cx="239.93" cy="756.38" r="2.1" fill="#a1a0a5"/>
<circle cx="168.71" cy="749.29" r="2.1" fill="#a1a0a5"/>
<circle cx="152.06" cy="754.69" r="2.1" fill="#a1a0a5"/>
<circle cx="145.49" cy="756.4" r="2.1" fill="#a1a0a5"/>
<circle cx="247.9" cy="757.08" r="2.1" fill="#a1a0a5"/>
<circle cx="205.98" cy="747.4" r="2.1" fill="#a1a0a5"/>
<circle cx="175.21" cy="749.72" r="2.1" fill="#a1a0a5"/>
<circle cx="240.38" cy="752.09" r="2.1" fill="#a1a0a5"/>
<circle cx="246.51" cy="758.14" r="2.1" fill="#a1a0a5"/>
<circle cx="164.56" cy="751.12" r="2.1" fill="#a1a0a5"/>
<circle cx="247.61" cy="755.47" r="2.1" fill="#a1a0a5"/>
<circle cx="215.93" cy="744.44" r="2.1" fill="#a1a0a5"/>
<circle cx="169.33" cy="748.56" r="2.1" fill="#a1a0a5"/>
<circle cx="174.57" cy="748.61" r="2.1" fill="#a1a0a5"/>
<circle cx="150.03" cy="756.86" r="2.1" fill="#a1a0a5"/>
<circle cx="247.98" cy="756.11" r="2.1" fill="#a1a0a5"/>
<circle cx="212" cy="743.38" r="2.1" fill="#a1a0a5"/>
<circle cx="243.35" cy="756.07" r="2.1" fill="#a1a0a5"/>
<circle cx="174.51" cy="748.09" r="2.1" fill="#a1a0a5"/>
<circle cx="175.59" cy="744.65" r="2.1" fill="#a1a0a5"/>
<circle cx="238.22" cy="755.99" r="2.1" fill="#a1a0a5"/>
<circle cx="177.5" cy="746.4" r="2.1" fill="#a1a0a5"/>
<circle cx="204.07" cy="748.38" r="2.1" fill="#a1a0a5"/>
<circle cx="167.81" cy="752.68" r="2.1" fill="#a1a0a5"/>
<circle cx="167.66" cy="752.42" r="2.1" fill="#a1a0a5"/>
<circle cx="201.05" cy="755.7" r="2.1" fill="#a1a0a5"/>
<circle cx="149.35" cy="754.51" r="2.1" fill="#a1a0a5"/>
<circle cx="95.94" cy="759.89" r="2.1" fill="#a1a0a5"/>
<circle cx="100.47" cy="759.65" r="2.1" fill="#a1a0a5"/>
<circle cx="109.52" cy="759.89" r="2.1" fill="#a1a0a5"/>
<circle cx="114.04" cy="759.65" r="2.1" fill="#a1a0a5"/>
<circle cx="118.57" cy="759.18" r="2.1" fill="#a1a0a5"/>
<circle cx="123.09" cy="759.65" r="2.1" fill="#a1a0a5"/>
<circle cx="127.62" cy="760.36" r="2.1" fill="#a1a0a5"/>
<circle cx="132.14" cy="759.65" r="2.1" fill="#a1a0a5"/>
<circle cx="134.86" cy="760.36" r="2.1" fill="#a1a0a5"/>
<circle cx="137.57" cy="753.72" r="2.1" fill="#a1a0a5"/>
<circle cx="114.04" cy="761.55" r="2.1" fill="#a1a0a5"/>
<circle cx="106.8" cy="761.55" r="2.1" fill="#a1a0a5"/>
<circle cx="162.55" cy="721.91" r="2.1" fill="#a1a0a5"/>
<circle cx="156.21" cy="740.19" r="2.1" fill="#a1a0a5"/>
<circle cx="158.39" cy="740.19" r="2.1" fill="#a1a0a5"/>
<circle cx="164.72" cy="741.61" r="2.1" fill="#a1a0a5"/>
<circle cx="174.49" cy="733.06" r="2.1" fill="#a1a0a5"/>
<circle cx="179.2" cy="733.06" r="2.1" fill="#a1a0a5"/>
<circle cx="177.21" cy="740.66" r="2.1" fill="#a1a0a5"/>
<circle cx="176.67" cy="744.93" r="2.1" fill="#a1a0a5"/>
<circle cx="185.17" cy="741.13" r="2.1" fill="#a1a0a5"/>
<circle cx="186.62" cy="740.19" r="2.1" fill="#a1a0a5"/>
<circle cx="187.53" cy="746.12" r="2.1" fill="#a1a0a5"/>
<circle cx="184.09" cy="718.11" r="2.1" fill="#a1a0a5"/>
<circle cx="184.99" cy="718.11" r="2.1" fill="#a1a0a5"/>
<circle cx="210.88" cy="734.96" r="2.1" fill="#a1a0a5"/>
<circle cx="210.51" cy="736.62" r="2.1" fill="#a1a0a5"/>
<circle cx="214.13" cy="741.61" r="2.1" fill="#a1a0a5"/>
<circle cx="219.02" cy="746.12" r="2.1" fill="#a1a0a5"/>
<circle cx="213.59" cy="745.41" r="2.1" fill="#a1a0a5"/>
<circle cx="209.97" cy="746.6" r="2.1" fill="#a1a0a5"/>
<circle cx="207.26" cy="747.78" r="2.1" fill="#a1a0a5"/>
<circle cx="214.31" cy="704.1" r="2.1" fill="#a1a0a5"/>
<circle cx="240.56" cy="750.16" r="2.1" fill="#a1a0a5"/>
<circle cx="246.17" cy="755.85" r="2.1" fill="#a1a0a5"/>
<circle cx="257.03" cy="753.95" r="2.1" fill="#a1a0a5"/>
<circle cx="257.94" cy="757.28" r="2.1" fill="#a1a0a5"/>
<circle cx="262.46" cy="759.65" r="2.1" fill="#a1a0a5"/>
<circle cx="266.08" cy="759.18" r="2.1" fill="#a1a0a5"/>
<circle cx="269.7" cy="760.84" r="2.1" fill="#a1a0a5"/>
<circle cx="273.32" cy="759.65" r="2.1" fill="#a1a0a5"/>
<circle cx="280.56" cy="754.9" r="2.1" fill="#a1a0a5"/>
<circle cx="284.18" cy="753.24" r="2.1" fill="#a1a0a5"/>
<circle cx="253.41" cy="759.65" r="2.1" fill="#a1a0a5"/>
<circle cx="244.36" cy="756.09" r="2.1" fill="#a1a0a5"/>
<line x1="61" y1="527" x2="61" y2="765.3" stroke="#000" stroke-width="1.8"/>
<line x1="60.1" y1="764.4" x2="335.05" y2="764.4" stroke="#000" stroke-width="1.8"/>
<line x1="53.6" y1="764.4" x2="61" y2="764.4" stroke="#000" stroke-width="1.8"/>
<text x="52.4" y="768.7" font-size="11.5" text-anchor="end" font-weight="bold">0</text>
<line x1="53.6" y1="716.92" x2="61" y2="716.92" stroke="#000" stroke-width="1.8"/>
<text x="52.4" y="721.22" font-size="11.5" text-anchor="end" font-weight="bold">2</text>
<line x1="53.6" y1="669.44" x2="61" y2="669.44" stroke="#000" stroke-width="1.8"/>
<text x="52.4" y="673.74" font-size="11.5" text-anchor="end" font-weight="bold">4</text>
<line x1="53.6" y1="621.96" x2="61" y2="621.96" stroke="#000" stroke-width="1.8"/>
<text x="52.4" y="626.26" font-size="11.5" text-anchor="end" font-weight="bold">6</text>
<line x1="53.6" y1="574.48" x2="61" y2="574.48" stroke="#000" stroke-width="1.8"/>
<text x="52.4" y="578.78" font-size="11.5" text-anchor="end" font-weight="bold">8</text>
<line x1="53.6" y1="527" x2="61" y2="527" stroke="#000" stroke-width="1.8"/>
<text x="52.4" y="531.3" font-size="11.5" text-anchor="end" font-weight="bold">10</text>
<line x1="70.6" y1="764.4" x2="70.6" y2="769.4" stroke="#000" stroke-width="1.6"/>
<line x1="88.7" y1="764.4" x2="88.7" y2="769.4" stroke="#000" stroke-width="1.6"/>
<line x1="106.8" y1="764.4" x2="106.8" y2="771.9" stroke="#000" stroke-width="1.6"/>
<line x1="124.9" y1="764.4" x2="124.9" y2="769.4" stroke="#000" stroke-width="1.6"/>
<line x1="143" y1="764.4" x2="143" y2="769.4" stroke="#000" stroke-width="1.6"/>
<line x1="161.1" y1="764.4" x2="161.1" y2="769.4" stroke="#000" stroke-width="1.6"/>
<line x1="179.2" y1="764.4" x2="179.2" y2="769.4" stroke="#000" stroke-width="1.6"/>
<line x1="197.3" y1="764.4" x2="197.3" y2="771.9" stroke="#000" stroke-width="1.6"/>
<line x1="215.4" y1="764.4" x2="215.4" y2="769.4" stroke="#000" stroke-width="1.6"/>
<line x1="233.5" y1="764.4" x2="233.5" y2="769.4" stroke="#000" stroke-width="1.6"/>
<line x1="251.6" y1="764.4" x2="251.6" y2="769.4" stroke="#000" stroke-width="1.6"/>
<line x1="269.7" y1="764.4" x2="269.7" y2="769.4" stroke="#000" stroke-width="1.6"/>
<line x1="287.8" y1="764.4" x2="287.8" y2="771.9" stroke="#000" stroke-width="1.6"/>
<line x1="305.9" y1="764.4" x2="305.9" y2="769.4" stroke="#000" stroke-width="1.6"/>
<line x1="324" y1="764.4" x2="324" y2="769.4" stroke="#000" stroke-width="1.6"/>
<text x="106.8" y="785" font-size="11.5" text-anchor="middle" font-weight="bold">-5</text>
<text x="197.3" y="785" font-size="11.5" text-anchor="middle" font-weight="bold">0</text>
<text x="287.8" y="785" font-size="11.5" text-anchor="middle" font-weight="bold">5</text>
<g transform="translate(177.1,801.4) scale(1.09,1)"><text x="0" y="0" font-size="11.5" font-weight="bold">log<tspan font-size="9" dy="2.6">2</tspan><tspan dy="-2.6">FC</tspan></text></g>
<g transform="translate(30.6,692.2) rotate(-90) scale(1.075,1)"><text x="0" y="0" font-size="11.8" font-weight="bold">-log<tspan font-size="9" dy="2.6">10</tspan><tspan dy="-2.6">(adj.P.Val)</tspan></text></g>
<text x="190.2" y="511.9" font-size="13.5" text-anchor="middle" font-weight="bold">8</text>
<rect x="404" y="527" width="117.5" height="189.92" fill="#d6f5fb"/>
<rect x="557.7" y="527" width="117.65" height="189.92" fill="#fdece4"/>
<line x1="521.5" y1="527" x2="521.5" y2="764.4" stroke="#4a4a4a" stroke-width="1.3" stroke-dasharray="2.6,1.8"/>
<line x1="557.7" y1="527" x2="557.7" y2="764.4" stroke="#4a4a4a" stroke-width="1.3" stroke-dasharray="2.6,1.8"/>
<line x1="404" y1="716.92" x2="675.35" y2="716.92" stroke="#4a4a4a" stroke-width="1.3" stroke-dasharray="2.6,1.8"/>
<line x1="539.6" y1="527" x2="539.6" y2="764.4" stroke="#666" stroke-width="1.2"/>
<polygon points="494.35,764.4 490.01,753.72 490.73,744.46 493.45,734.96 499.78,726.89 506.12,719.29 514.26,712.17 522.77,706 527.11,708.14 528.92,708.85 532,717.39 534.89,729.74 537.25,740.9 538.88,754.9 539.6,757.28 539.78,754.9 541.05,740.9 542.86,729.74 545.03,717.39 549.92,709.8 552.45,708.61 557.7,709.8 560.42,718.11 566.03,727.6 575.44,728.79 578.88,732.59 584.85,740.66 589.56,744.46 593,749.44 590.64,757.28 584.85,762.5 583.04,764.4" fill="#a1a0a5"/>
<circle cx="494.99" cy="761.76" r="2.1" fill="#a1a0a5"/>
<circle cx="494.01" cy="759.74" r="2.1" fill="#a1a0a5"/>
<circle cx="492.62" cy="757.44" r="2.1" fill="#a1a0a5"/>
<circle cx="491.2" cy="756.12" r="2.1" fill="#a1a0a5"/>
<circle cx="490.72" cy="751.78" r="2.1" fill="#a1a0a5"/>
<circle cx="489.3" cy="750.31" r="2.1" fill="#a1a0a5"/>
<circle cx="492.24" cy="747.03" r="2.1" fill="#a1a0a5"/>
<circle cx="489.76" cy="743.5" r="2.1" fill="#a1a0a5"/>
<circle cx="493.71" cy="741.59" r="2.1" fill="#a1a0a5"/>
<circle cx="494.02" cy="739.23" r="2.1" fill="#a1a0a5"/>
<circle cx="494.25" cy="737.11" r="2.1" fill="#a1a0a5"/>
<circle cx="494.21" cy="733.69" r="2.1" fill="#a1a0a5"/>
<circle cx="495.92" cy="733.18" r="2.1" fill="#a1a0a5"/>
<circle cx="498.12" cy="731.63" r="2.1" fill="#a1a0a5"/>
<circle cx="499.42" cy="728.48" r="2.1" fill="#a1a0a5"/>
<circle cx="500.54" cy="726.19" r="2.1" fill="#a1a0a5"/>
<circle cx="502.05" cy="723.64" r="2.1" fill="#a1a0a5"/>
<circle cx="504.22" cy="722.21" r="2.1" fill="#a1a0a5"/>
<circle cx="505.59" cy="721.06" r="2.1" fill="#a1a0a5"/>
<circle cx="506.26" cy="719.11" r="2.1" fill="#a1a0a5"/>
<circle cx="508.72" cy="716.49" r="2.1" fill="#a1a0a5"/>
<circle cx="511.26" cy="714" r="2.1" fill="#a1a0a5"/>
<circle cx="512.63" cy="713.49" r="2.1" fill="#a1a0a5"/>
<circle cx="515.08" cy="712.28" r="2.1" fill="#a1a0a5"/>
<circle cx="517.54" cy="711.98" r="2.1" fill="#a1a0a5"/>
<circle cx="518.28" cy="709.3" r="2.1" fill="#a1a0a5"/>
<circle cx="521.37" cy="709.2" r="2.1" fill="#a1a0a5"/>
<circle cx="523.21" cy="705.46" r="2.1" fill="#a1a0a5"/>
<circle cx="524.59" cy="707.69" r="2.1" fill="#a1a0a5"/>
<circle cx="527.92" cy="707.9" r="2.1" fill="#a1a0a5"/>
<circle cx="550.99" cy="710.31" r="2.1" fill="#a1a0a5"/>
<circle cx="552.69" cy="709.2" r="2.1" fill="#a1a0a5"/>
<circle cx="556.58" cy="710.97" r="2.1" fill="#a1a0a5"/>
<circle cx="558.42" cy="710.3" r="2.1" fill="#a1a0a5"/>
<circle cx="558.71" cy="712.47" r="2.1" fill="#a1a0a5"/>
<circle cx="559.67" cy="716.01" r="2.1" fill="#a1a0a5"/>
<circle cx="561.52" cy="719.28" r="2.1" fill="#a1a0a5"/>
<circle cx="560.89" cy="720.41" r="2.1" fill="#a1a0a5"/>
<circle cx="563.29" cy="722.78" r="2.1" fill="#a1a0a5"/>
<circle cx="563.81" cy="727.44" r="2.1" fill="#a1a0a5"/>
<circle cx="566.17" cy="728.08" r="2.1" fill="#a1a0a5"/>
<circle cx="570.37" cy="729.29" r="2.1" fill="#a1a0a5"/>
<circle cx="572.53" cy="728.6" r="2.1" fill="#a1a0a5"/>
<circle cx="576.58" cy="728.55" r="2.1" fill="#a1a0a5"/>
<circle cx="577.33" cy="730.22" r="2.1" fill="#a1a0a5"/>
<circle cx="578.84" cy="733.59" r="2.1" fill="#a1a0a5"/>
<circle cx="579.64" cy="736.12" r="2.1" fill="#a1a0a5"/>
<circle cx="581.9" cy="737.02" r="2.1" fill="#a1a0a5"/>
<circle cx="582.95" cy="739.08" r="2.1" fill="#a1a0a5"/>
<circle cx="585.94" cy="742.07" r="2.1" fill="#a1a0a5"/>
<circle cx="588.63" cy="743.02" r="2.1" fill="#a1a0a5"/>
<circle cx="588.31" cy="744.89" r="2.1" fill="#a1a0a5"/>
<circle cx="590.82" cy="748.74" r="2.1" fill="#a1a0a5"/>
<circle cx="592.07" cy="750.04" r="2.1" fill="#a1a0a5"/>
<circle cx="592.19" cy="752.65" r="2.1" fill="#a1a0a5"/>
<circle cx="589.87" cy="754.49" r="2.1" fill="#a1a0a5"/>
<circle cx="590.18" cy="757.29" r="2.1" fill="#a1a0a5"/>
<circle cx="588.58" cy="759.97" r="2.1" fill="#a1a0a5"/>
<circle cx="584.97" cy="759.56" r="2.1" fill="#a1a0a5"/>
<circle cx="583.39" cy="762.33" r="2.1" fill="#a1a0a5"/>
<circle cx="495.25" cy="720.48" r="2.1" fill="#a1a0a5"/>
<circle cx="497.61" cy="722.62" r="2.1" fill="#a1a0a5"/>
<circle cx="502.31" cy="722.14" r="2.1" fill="#a1a0a5"/>
<circle cx="504.12" cy="724.04" r="2.1" fill="#a1a0a5"/>
<circle cx="489.83" cy="722.86" r="2.1" fill="#a1a0a5"/>
<circle cx="485.66" cy="724.52" r="2.1" fill="#a1a0a5"/>
<circle cx="489.83" cy="726.42" r="2.1" fill="#a1a0a5"/>
<circle cx="495.44" cy="728.32" r="2.1" fill="#a1a0a5"/>
<circle cx="499.42" cy="727.13" r="2.1" fill="#a1a0a5"/>
<circle cx="492" cy="731.64" r="2.1" fill="#a1a0a5"/>
<circle cx="493.81" cy="734.01" r="2.1" fill="#a1a0a5"/>
<circle cx="477.52" cy="727.13" r="2.1" fill="#a1a0a5"/>
<circle cx="483.67" cy="729.5" r="2.1" fill="#a1a0a5"/>
<circle cx="440.05" cy="730.21" r="2.1" fill="#a1a0a5"/>
<circle cx="447.65" cy="728.32" r="2.1" fill="#a1a0a5"/>
<circle cx="447.65" cy="732.35" r="2.1" fill="#a1a0a5"/>
<circle cx="457.06" cy="732.35" r="2.1" fill="#a1a0a5"/>
<circle cx="457.61" cy="734.01" r="2.1" fill="#a1a0a5"/>
<circle cx="461.05" cy="732.35" r="2.1" fill="#a1a0a5"/>
<circle cx="455.62" cy="744.46" r="2.1" fill="#a1a0a5"/>
<circle cx="460.68" cy="743.51" r="2.1" fill="#a1a0a5"/>
<circle cx="459.96" cy="748.02" r="2.1" fill="#a1a0a5"/>
<circle cx="465.93" cy="747.54" r="2.1" fill="#a1a0a5"/>
<circle cx="464.49" cy="751.58" r="2.1" fill="#a1a0a5"/>
<circle cx="465.93" cy="754.9" r="2.1" fill="#a1a0a5"/>
<circle cx="469.01" cy="757.52" r="2.1" fill="#a1a0a5"/>
<circle cx="471.36" cy="750.16" r="2.1" fill="#a1a0a5"/>
<circle cx="474.8" cy="750.63" r="2.1" fill="#a1a0a5"/>
<circle cx="476.61" cy="744.7" r="2.1" fill="#a1a0a5"/>
<circle cx="479.51" cy="749.44" r="2.1" fill="#a1a0a5"/>
<circle cx="483.67" cy="745.17" r="2.1" fill="#a1a0a5"/>
<circle cx="474.8" cy="757.52" r="2.1" fill="#a1a0a5"/>
<circle cx="480.78" cy="757.28" r="2.1" fill="#a1a0a5"/>
<circle cx="483.67" cy="757.75" r="2.1" fill="#a1a0a5"/>
<circle cx="486.02" cy="750.16" r="2.1" fill="#a1a0a5"/>
<circle cx="487.11" cy="753.72" r="2.1" fill="#a1a0a5"/>
<circle cx="524.03" cy="696.03" r="2.1" fill="#a1a0a5"/>
<circle cx="524.03" cy="702.2" r="2.1" fill="#a1a0a5"/>
<circle cx="551.73" cy="703.39" r="2.1" fill="#a1a0a5"/>
<circle cx="553.9" cy="697.22" r="2.1" fill="#a1a0a5"/>
<circle cx="526.93" cy="703.86" r="2.1" fill="#a1a0a5"/>
<circle cx="549.56" cy="706.24" r="2.1" fill="#a1a0a5"/>
<circle cx="570.55" cy="723.33" r="2.1" fill="#a1a0a5"/>
<circle cx="577.61" cy="723.57" r="2.1" fill="#a1a0a5"/>
<circle cx="579.42" cy="724.75" r="2.1" fill="#a1a0a5"/>
<circle cx="592.09" cy="728.79" r="2.1" fill="#a1a0a5"/>
<circle cx="597.52" cy="728.79" r="2.1" fill="#a1a0a5"/>
<circle cx="598.43" cy="731.16" r="2.1" fill="#a1a0a5"/>
<circle cx="604.76" cy="728.79" r="2.1" fill="#a1a0a5"/>
<circle cx="592.09" cy="733.54" r="2.1" fill="#a1a0a5"/>
<circle cx="602.05" cy="735.91" r="2.1" fill="#a1a0a5"/>
<circle cx="593.18" cy="736.62" r="2.1" fill="#a1a0a5"/>
<circle cx="594.81" cy="739" r="2.1" fill="#a1a0a5"/>
<circle cx="579.42" cy="739" r="2.1" fill="#a1a0a5"/>
<circle cx="586.66" cy="740.66" r="2.1" fill="#a1a0a5"/>
<circle cx="595.71" cy="745.41" r="2.1" fill="#a1a0a5"/>
<circle cx="600.24" cy="744.7" r="2.1" fill="#a1a0a5"/>
<circle cx="598.43" cy="748.97" r="2.1" fill="#a1a0a5"/>
<circle cx="606.57" cy="746.12" r="2.1" fill="#a1a0a5"/>
<circle cx="603.86" cy="750.63" r="2.1" fill="#a1a0a5"/>
<circle cx="593.9" cy="754.9" r="2.1" fill="#a1a0a5"/>
<circle cx="597.52" cy="756.09" r="2.1" fill="#a1a0a5"/>
<circle cx="606.21" cy="755.85" r="2.1" fill="#a1a0a5"/>
<circle cx="620.33" cy="743.98" r="2.1" fill="#a1a0a5"/>
<circle cx="581.23" cy="729.98" r="2.1" fill="#a1a0a5"/>
<circle cx="583.95" cy="735.91" r="2.1" fill="#a1a0a5"/>
<line x1="404" y1="527" x2="404" y2="765.3" stroke="#000" stroke-width="1.8"/>
<line x1="403.1" y1="764.4" x2="677.35" y2="764.4" stroke="#000" stroke-width="1.8"/>
<line x1="396.6" y1="764.4" x2="404" y2="764.4" stroke="#000" stroke-width="1.8"/>
<text x="395.4" y="768.7" font-size="11.5" text-anchor="end" font-weight="bold">0</text>
<line x1="396.6" y1="716.92" x2="404" y2="716.92" stroke="#000" stroke-width="1.8"/>
<text x="395.4" y="721.22" font-size="11.5" text-anchor="end" font-weight="bold">2</text>
<line x1="396.6" y1="669.44" x2="404" y2="669.44" stroke="#000" stroke-width="1.8"/>
<text x="395.4" y="673.74" font-size="11.5" text-anchor="end" font-weight="bold">4</text>
<line x1="396.6" y1="621.96" x2="404" y2="621.96" stroke="#000" stroke-width="1.8"/>
<text x="395.4" y="626.26" font-size="11.5" text-anchor="end" font-weight="bold">6</text>
<line x1="396.6" y1="574.48" x2="404" y2="574.48" stroke="#000" stroke-width="1.8"/>
<text x="395.4" y="578.78" font-size="11.5" text-anchor="end" font-weight="bold">8</text>
<line x1="396.6" y1="527" x2="404" y2="527" stroke="#000" stroke-width="1.8"/>
<text x="395.4" y="531.3" font-size="11.5" text-anchor="end" font-weight="bold">10</text>
<line x1="412.9" y1="764.4" x2="412.9" y2="769.4" stroke="#000" stroke-width="1.6"/>
<line x1="431" y1="764.4" x2="431" y2="769.4" stroke="#000" stroke-width="1.6"/>
<line x1="449.1" y1="764.4" x2="449.1" y2="771.9" stroke="#000" stroke-width="1.6"/>
<line x1="467.2" y1="764.4" x2="467.2" y2="769.4" stroke="#000" stroke-width="1.6"/>
<line x1="485.3" y1="764.4" x2="485.3" y2="769.4" stroke="#000" stroke-width="1.6"/>
<line x1="503.4" y1="764.4" x2="503.4" y2="769.4" stroke="#000" stroke-width="1.6"/>
<line x1="521.5" y1="764.4" x2="521.5" y2="769.4" stroke="#000" stroke-width="1.6"/>
<line x1="539.6" y1="764.4" x2="539.6" y2="771.9" stroke="#000" stroke-width="1.6"/>
<line x1="557.7" y1="764.4" x2="557.7" y2="769.4" stroke="#000" stroke-width="1.6"/>
<line x1="575.8" y1="764.4" x2="575.8" y2="769.4" stroke="#000" stroke-width="1.6"/>
<line x1="593.9" y1="764.4" x2="593.9" y2="769.4" stroke="#000" stroke-width="1.6"/>
<line x1="612" y1="764.4" x2="612" y2="769.4" stroke="#000" stroke-width="1.6"/>
<line x1="630.1" y1="764.4" x2="630.1" y2="771.9" stroke="#000" stroke-width="1.6"/>
<line x1="648.2" y1="764.4" x2="648.2" y2="769.4" stroke="#000" stroke-width="1.6"/>
<line x1="666.3" y1="764.4" x2="666.3" y2="769.4" stroke="#000" stroke-width="1.6"/>
<text x="449.1" y="785" font-size="11.5" text-anchor="middle" font-weight="bold">-5</text>
<text x="539.6" y="785" font-size="11.5" text-anchor="middle" font-weight="bold">0</text>
<text x="630.1" y="785" font-size="11.5" text-anchor="middle" font-weight="bold">5</text>
<g transform="translate(519.4,801.4) scale(1.09,1)"><text x="0" y="0" font-size="11.5" font-weight="bold">log<tspan font-size="9" dy="2.6">2</tspan><tspan dy="-2.6">FC</tspan></text></g>
<g transform="translate(373.6,692.2) rotate(-90) scale(1.075,1)"><text x="0" y="0" font-size="11.8" font-weight="bold">-log<tspan font-size="9" dy="2.6">10</tspan><tspan dy="-2.6">(adj.P.Val)</tspan></text></g>
<text x="535.8" y="510.9" font-size="13.2" text-anchor="middle" textLength="55.2" lengthAdjust="spacingAndGlyphs">divarasib</text>
<circle cx="80.4" cy="569.8" r="1.9" fill="#4b4bf2"/>
<circle cx="129.6" cy="573" r="1.9" fill="#4b4bf2"/>
<circle cx="132" cy="611" r="1.9" fill="#4b4bf2"/>
<circle cx="170.6" cy="660.4" r="1.9" fill="#4b4bf2"/>
<circle cx="133.6" cy="661.2" r="1.9" fill="#4b4bf2"/>
<circle cx="231.4" cy="661" r="1.9" fill="#f0508a"/>
<circle cx="263.6" cy="665" r="1.9" fill="#f0508a"/>
<text x="70.4" y="553.8" font-size="11" fill="#c030c0" textLength="56.2" lengthAdjust="spacingAndGlyphs" stroke="#c030c0" stroke-width="0.3">KRAS Cys12</text>
<line x1="82" y1="566.6" x2="87" y2="556.4" stroke="#444" stroke-width="0.9"/>
<text x="69" y="593.8" font-size="11" fill="#1f78c0" textLength="68" lengthAdjust="spacingAndGlyphs" stroke="#1f78c0" stroke-width="0.3">DUSP4 Cys141</text>
<line x1="130.4" y1="596.4" x2="132.4" y2="608" stroke="#444" stroke-width="0.9"/>
<text x="97.6" y="643" font-size="11" fill="#1f78c0" textLength="76.4" lengthAdjust="spacingAndGlyphs" stroke="#1f78c0" stroke-width="0.3">PHLDA1 Cys148</text>
<line x1="167" y1="644.4" x2="170.6" y2="657" stroke="#444" stroke-width="0.9"/>
<text x="65.6" y="688" font-size="11" fill="#1f78c0" textLength="69.4" lengthAdjust="spacingAndGlyphs" stroke="#1f78c0" stroke-width="0.3">DUSP4 Cys159</text>
<line x1="126.4" y1="675.6" x2="133" y2="664" stroke="#444" stroke-width="0.9"/>
<text x="264" y="652.4" font-size="11" fill="#c87468" textLength="60" lengthAdjust="spacingAndGlyphs" stroke="#c87468" stroke-width="0.3">CIC Cys1420</text>
<line x1="265" y1="663" x2="270" y2="655" stroke="#444" stroke-width="0.9"/>
<circle cx="448.6" cy="557" r="1.9" fill="#4b4bf2"/>
<circle cx="453.4" cy="580" r="1.9" fill="#4b4bf2"/>
<circle cx="472.4" cy="609" r="1.9" fill="#4b4bf2"/>
<circle cx="424.4" cy="630" r="1.9" fill="#4b4bf2"/>
<circle cx="489" cy="621.6" r="1.9" fill="#4b4bf2"/>
<circle cx="514.6" cy="661.6" r="1.9" fill="#4b4bf2"/>
<circle cx="507.4" cy="656" r="1.9" fill="#4b4bf2"/>
<circle cx="498.4" cy="664" r="1.9" fill="#4b4bf2"/>
<circle cx="476" cy="661.4" r="1.9" fill="#4b4bf2"/>
<circle cx="486" cy="679.4" r="1.9" fill="#4b4bf2"/>
<circle cx="500" cy="674" r="1.9" fill="#4b4bf2"/>
<circle cx="511" cy="678" r="1.9" fill="#4b4bf2"/>
<circle cx="519.4" cy="685.6" r="1.9" fill="#4b4bf2"/>
<circle cx="493" cy="690.6" r="1.9" fill="#4b4bf2"/>
<circle cx="493" cy="697" r="1.9" fill="#4b4bf2"/>
<circle cx="501.4" cy="700.6" r="1.9" fill="#4b4bf2"/>
<circle cx="506.6" cy="704.6" r="1.9" fill="#4b4bf2"/>
<circle cx="513" cy="708.6" r="1.9" fill="#4b4bf2"/>
<circle cx="519.6" cy="709" r="1.9" fill="#4b4bf2"/>
<circle cx="513.4" cy="713.4" r="1.9" fill="#4b4bf2"/>
<circle cx="520.6" cy="716" r="1.9" fill="#4b4bf2"/>
<circle cx="595.4" cy="674" r="1.9" fill="#f0508a"/>
<circle cx="559.4" cy="693.6" r="1.9" fill="#f0508a"/>
<circle cx="557.6" cy="697" r="1.9" fill="#f0508a"/>
<circle cx="561.4" cy="704.4" r="1.9" fill="#f0508a"/>
<circle cx="564" cy="705" r="1.9" fill="#f0508a"/>
<circle cx="576" cy="702.4" r="1.9" fill="#f0508a"/>
<circle cx="562.6" cy="713.4" r="1.9" fill="#f0508a"/>
<circle cx="559.6" cy="715.6" r="1.9" fill="#f0508a"/>
<text x="450" y="595" font-size="11" fill="#1f78c0" textLength="68" lengthAdjust="spacingAndGlyphs" stroke="#1f78c0" stroke-width="0.3">DUSP4 Cys141</text>
<line x1="473" y1="607" x2="479.6" y2="598.4" stroke="#444" stroke-width="0.9"/>
<text x="407" y="612.4" font-size="11" fill="#c030c0" textLength="56" lengthAdjust="spacingAndGlyphs" stroke="#c030c0" stroke-width="0.3">KRAS Cys12</text>
<line x1="425.6" y1="626.6" x2="430.6" y2="616" stroke="#444" stroke-width="0.9"/>
<text x="443.4" y="641" font-size="11" fill="#1f78c0" textLength="75.6" lengthAdjust="spacingAndGlyphs" stroke="#1f78c0" stroke-width="0.3">PHLDA1 Cys148</text>
<line x1="514" y1="659" x2="511" y2="643" stroke="#444" stroke-width="0.9"/>
<text x="412" y="679" font-size="11" fill="#1f78c0" textLength="69" lengthAdjust="spacingAndGlyphs" stroke="#1f78c0" stroke-width="0.3">DUSP4 Cys159</text>
<line x1="474.4" y1="663" x2="465" y2="669.6" stroke="#444" stroke-width="0.9"/>
<text x="598" y="662" font-size="11" fill="#c87468" textLength="60" lengthAdjust="spacingAndGlyphs" stroke="#c87468" stroke-width="0.3">CIC Cys1420</text>
<line x1="597" y1="671.6" x2="605" y2="664" stroke="#444" stroke-width="0.9"/>
</svg></body></html>
